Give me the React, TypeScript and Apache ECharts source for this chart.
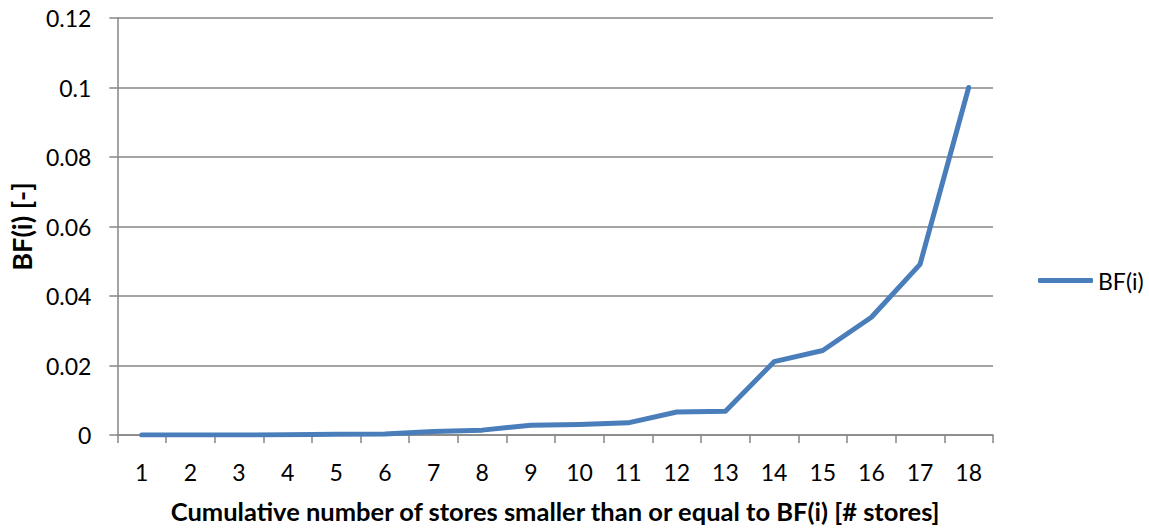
import React, { useEffect, useRef } from "react";
import * as echarts from "echarts";

// Store counts along the x axis
const categories: string[] = [
  "1", "2", "3", "4", "5", "6", "7", "8", "9",
  "10", "11", "12", "13", "14", "15", "16", "17", "18",
];

// BF(i) values per cumulative store count
const bfValues: number[] = [
  0, 0, 0, 0.0001, 0.0002, 0.0003, 0.001, 0.0014, 0.0028,
  0.003, 0.0035, 0.0066, 0.0068, 0.0211, 0.0243, 0.0339, 0.0491, 0.1,
];

const yTicks = { min: 0, max: 0.12, interval: 0.02 };

const seriesName = "BF(i)";
const xTitle = "Cumulative number of stores smaller than or equal to BF(i) [# stores]";
const yTitle = "BF(i) [-]";

const FONT = "Lato, 'Open Sans', sans-serif";
const GRAY = "#868686";
const BLUE = "#4a7ebb";

export default function App() {
  const ref = useRef<HTMLDivElement | null>(null);

  useEffect(() => {
    document.body.style.margin = "0";
    if (!ref.current) return;
    const chart = echarts.init(ref.current, null, { renderer: "svg" });
    chart.setOption({
      animation: false,
      backgroundColor: "#ffffff",
      grid: { left: 116, right: 156, top: 18, bottom: 89, containLabel: false },
      legend: {
        data: [{ name: seriesName, icon: "roundRect" }],
        left: 1033,
        top: 264,
        itemWidth: 55,
        itemHeight: 5,
        itemGap: 4,
        textStyle: { fontFamily: FONT, fontSize: 23, color: "#000" },
      },
      xAxis: {
        type: "category",
        data: categories,
        boundaryGap: true,
        name: xTitle,
        nameLocation: "middle",
        nameGap: 63,
        nameTextStyle: { fontFamily: FONT, fontSize: 25.5, fontWeight: "bold", color: "#000" },
        axisLine: { show: true, lineStyle: { color: GRAY, width: 1.5 } },
        axisTick: { show: true, length: 8, alignWithLabel: false, lineStyle: { color: GRAY, width: 1.5 } },
        axisLabel: { fontFamily: FONT, fontSize: 23, color: "#000", margin: 25 },
        splitLine: { show: false },
      },
      yAxis: {
        type: "value",
        min: yTicks.min,
        max: yTicks.max,
        interval: yTicks.interval,
        name: yTitle,
        nameLocation: "middle",
        nameGap: 82,
        nameTextStyle: { fontFamily: FONT, fontSize: 27, fontWeight: "bold", color: "#000" },
        axisLine: { show: true, lineStyle: { color: GRAY, width: 1.5 } },
        axisTick: { show: true, length: 8, lineStyle: { color: GRAY, width: 1.5 } },
        axisLabel: {
          fontFamily: FONT,
          fontSize: 23,
          color: "#000",
          margin: 26,
          formatter: (v: number) => String(parseFloat(v.toFixed(2))),
        },
        splitLine: { show: true, lineStyle: { color: GRAY, width: 1.5 } },
      },
      series: [
        {
          name: seriesName,
          type: "line",
          data: bfValues,
          showSymbol: false,
          symbol: "none",
          lineStyle: { color: BLUE, width: 5, cap: "round", join: "round" },
          itemStyle: { color: BLUE },
        },
      ],
    });
    return () => chart.dispose();
  }, []);

  return <div ref={ref} style={{ width: 1149, height: 529 }} />;
}
